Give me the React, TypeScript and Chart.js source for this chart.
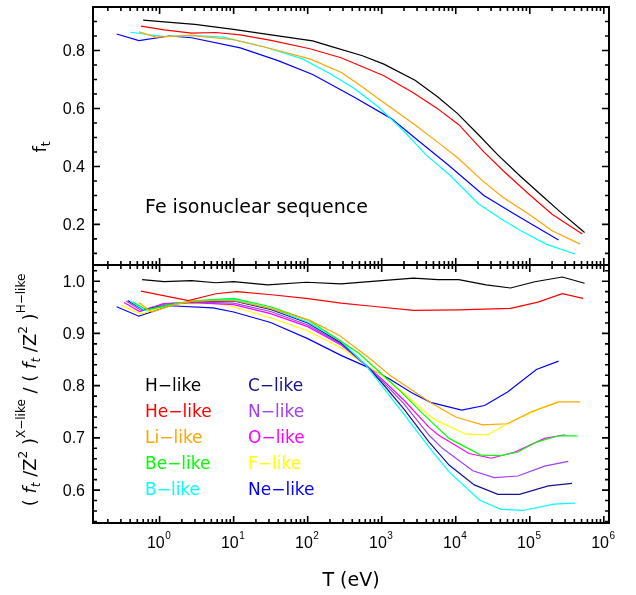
import React, { useEffect, useRef } from "react";
import { Chart, registerables } from "chart.js";
Chart.register(...registerables);

// ---------------- axis ranges & ticks ----------------
const X_MIN = 0.126;
const X_MAX = 1.175e6;
const TOP_Y_MIN = 0.06;
const TOP_Y_MAX = 0.95;
const BOT_Y_MIN = 0.537;
const BOT_Y_MAX = 1.031;
const topYTicks = [0.2, 0.4, 0.6, 0.8];
const bottomYTicks = [0.6, 0.7, 0.8, 0.9, 1.0];
const xTickExponents = [0, 1, 2, 3, 4, 5, 6];

// ---------------- top panel: f_t ----------------
const tTopH = [0.6, 1.15, 3.0, 10, 32, 117, 200, 550, 1070, 2820, 5620, 10500, 20000, 37000, 74000, 148000, 251000, 550000];
const fTopH = [0.905, 0.899, 0.890, 0.873, 0.854, 0.833, 0.815, 0.782, 0.753, 0.697, 0.641, 0.583, 0.511, 0.440, 0.367, 0.298, 0.246, 0.172];
const tTopHe = [0.56, 1.15, 2.7, 5.75, 12.3, 32, 107, 282, 1070, 2700, 5500, 11000, 23400, 43700, 97700, 200000, 513000];
const fTopHe = [0.884, 0.871, 0.860, 0.862, 0.854, 0.835, 0.806, 0.775, 0.713, 0.653, 0.602, 0.544, 0.453, 0.385, 0.304, 0.235, 0.167];
const tTopLi = [0.525, 0.89, 2.57, 10, 32.4, 107, 282, 537, 955, 2690, 5750, 10500, 22900, 43700, 97700, 200000, 479000];
const fTopLi = [0.864, 0.846, 0.852, 0.837, 0.806, 0.771, 0.725, 0.676, 0.629, 0.547, 0.483, 0.431, 0.351, 0.293, 0.235, 0.178, 0.132];
const tTopB = [0.40, 1.15, 2.7, 7.2, 26.3, 85, 204, 427, 912, 1950, 3980, 8510, 20000, 39800, 75900, 166000, 407000];
const fTopB = [0.863, 0.848, 0.852, 0.846, 0.812, 0.771, 0.719, 0.669, 0.604, 0.524, 0.440, 0.368, 0.272, 0.221, 0.178, 0.132, 0.098];
const tTopNe = [0.263, 0.525, 1.35, 2.7, 12.3, 39.8, 117, 427, 1350, 3160, 7940, 24000, 60300, 126000, 245000];
const fTopNe = [0.857, 0.834, 0.850, 0.844, 0.809, 0.765, 0.717, 0.639, 0.565, 0.488, 0.405, 0.300, 0.238, 0.189, 0.146];

// ---------------- bottom panel: ratio ----------------
const tH = [0.58, 1.15, 2.7, 5.75, 10, 28.8, 95.5, 282, 1000, 2690, 5750, 11000, 25700, 55000, 117000, 275000, 550000];
const rH = [1.003, 0.999, 1.001, 0.997, 0.999, 0.993, 0.998, 0.995, 1.001, 1.006, 1.003, 1.003, 0.993, 0.987, 0.999, 1.008, 0.996];
const tHe = [0.56, 2.45, 5.75, 11, 32.4, 95.5, 282, 741, 2690, 11000, 55000, 129000, 275000, 525000];
const rHe = [0.981, 0.963, 0.976, 0.980, 0.974, 0.967, 0.958, 0.952, 0.944, 0.945, 0.948, 0.960, 0.976, 0.967];
const tLi = [0.525, 0.78, 1.58, 2.82, 10, 31.6, 107, 269, 692, 1290, 2400, 4790, 10000, 22900, 50100, 105000, 245000, 479000];
const rLi = [0.959, 0.941, 0.955, 0.962, 0.963, 0.948, 0.925, 0.896, 0.852, 0.820, 0.794, 0.766, 0.740, 0.725, 0.727, 0.750, 0.769, 0.769];
const tBe = [0.437, 0.676, 1.78, 3.16, 10, 31.6, 100, 269, 501, 933, 1740, 3550, 8130, 21900, 40700, 69200, 123000, 245000, 437000];
const rBe = [0.960, 0.945, 0.958, 0.963, 0.967, 0.951, 0.926, 0.887, 0.861, 0.826, 0.791, 0.747, 0.699, 0.667, 0.666, 0.673, 0.692, 0.704, 0.704];
const tB = [0.40, 0.63, 1.58, 2.82, 10, 31.6, 100, 282, 603, 1000, 2000, 4370, 8130, 20900, 40700, 81300, 209000, 407000];
const rB = [0.962, 0.944, 0.956, 0.962, 0.965, 0.948, 0.922, 0.885, 0.840, 0.800, 0.745, 0.682, 0.635, 0.581, 0.563, 0.561, 0.573, 0.575];
const tC = [0.372, 0.603, 1.41, 2.82, 10, 31.6, 100, 282, 603, 1000, 2000, 4370, 8130, 17800, 37200, 72400, 178000, 372000];
const rC = [0.963, 0.945, 0.955, 0.961, 0.962, 0.946, 0.920, 0.882, 0.840, 0.806, 0.755, 0.692, 0.648, 0.610, 0.592, 0.592, 0.608, 0.613];
const tN = [0.355, 0.562, 1.26, 2.82, 10, 31.6, 100, 282, 603, 1000, 2000, 4370, 6610, 17000, 33100, 69200, 158000, 331000];
const rN = [0.962, 0.944, 0.957, 0.960, 0.958, 0.942, 0.916, 0.880, 0.840, 0.810, 0.765, 0.705, 0.680, 0.637, 0.624, 0.627, 0.646, 0.655];
const tO = [0.331, 0.537, 1.12, 2.82, 10, 31.6, 100, 282, 603, 1000, 2000, 4370, 5890, 15100, 30200, 63100, 158000, 302000];
const rO = [0.959, 0.942, 0.957, 0.959, 0.955, 0.938, 0.913, 0.878, 0.840, 0.813, 0.772, 0.720, 0.705, 0.670, 0.661, 0.673, 0.699, 0.706];
const tF = [0.302, 0.562, 1.51, 5.89, 10, 31.6, 100, 282, 603, 1000, 2000, 4370, 5370, 13800, 26900, 56200, 138000, 245000];
const rF = [0.954, 0.937, 0.957, 0.957, 0.951, 0.930, 0.905, 0.872, 0.840, 0.820, 0.785, 0.743, 0.734, 0.707, 0.706, 0.731, 0.756, 0.769];
const tNe = [0.263, 0.525, 1.38, 5.25, 10, 31.6, 100, 282, 631, 1260, 2510, 4570, 12000, 24500, 50100, 123000, 245000];
const rNe = [0.951, 0.933, 0.953, 0.949, 0.941, 0.921, 0.890, 0.858, 0.836, 0.813, 0.787, 0.768, 0.753, 0.762, 0.788, 0.831, 0.847];

// ---------------- names & colours ----------------
const seriesNames = ["H\u2212like", "He\u2212like", "Li\u2212like", "Be\u2212like", "B\u2212like", "C\u2212like", "N\u2212like", "O\u2212like", "F\u2212like", "Ne\u2212like"];
const seriesColors = ["#000000", "#ff0000", "#ffa500", "#00ff00", "#00ffff", "#14148a", "#a040f0", "#ff00ff", "#ffff00", "#0000ff"];
const annotationText = "Fe isonuclear sequence";
const xTitle = "T (eV)";

const pts = (t: number[], v: number[]) => t.map((x, i) => ({ x, y: v[i] }));
const ds = (t: number[], v: number[], color: string) => ({
  data: pts(t, v),
  borderColor: color,
  backgroundColor: color,
  borderWidth: 1.2,
  showLine: true,
  pointRadius: 0,
  fill: false,
  tension: 0,
});

type Seg = { t: string; f: string; dy: number };
function drawRotated(ctx: CanvasRenderingContext2D, segs: Seg[], bx: number, cy: number) {
  ctx.save();
  let total = 0;
  for (const s of segs) { ctx.font = s.f; total += ctx.measureText(s.t).width; }
  ctx.translate(bx, cy);
  ctx.rotate(-Math.PI / 2);
  ctx.textAlign = "left";
  ctx.textBaseline = "alphabetic";
  ctx.fillStyle = "#000";
  let x = -total / 2;
  for (const s of segs) {
    ctx.font = s.f;
    ctx.fillText(s.t, x, s.dy);
    x += ctx.measureText(s.t).width;
  }
  ctx.restore();
}

const TICK_FONT = "16px 'Liberation Sans', Arial, sans-serif";
const SUP_FONT = "10px 'Liberation Sans', Arial, sans-serif";

function drawFrame(chart: any, yMajors: number[], yMinorStep: number) {
  const { ctx, chartArea: a } = chart;
  const xs = chart.scales.x;
  const ys = chart.scales.y;
  ctx.save();
  ctx.strokeStyle = "#000";
  ctx.lineWidth = 1.6;
  ctx.beginPath();
  for (let e = -1; e <= 6; e++) {
    for (let m = 1; m <= 9; m++) {
      const v = m * Math.pow(10, e);
      if (v < X_MIN || v > X_MAX) continue;
      const px = xs.getPixelForValue(v);
      const len = m === 1 ? 7 : 4;
      ctx.moveTo(px, a.bottom); ctx.lineTo(px, a.bottom - len);
      ctx.moveTo(px, a.top); ctx.lineTo(px, a.top + len);
    }
  }
  const k0 = Math.ceil(ys.min / yMinorStep - 1e-6);
  const k1 = Math.floor(ys.max / yMinorStep + 1e-6);
  for (let k = k0; k <= k1; k++) {
    const v = k * yMinorStep;
    const isMajor = yMajors.some((m) => Math.abs(m - v) < 1e-6);
    const py = ys.getPixelForValue(v);
    const len = isMajor ? 7 : 4;
    ctx.moveTo(a.left, py); ctx.lineTo(a.left + len, py);
    ctx.moveTo(a.right, py); ctx.lineTo(a.right - len, py);
  }
  ctx.stroke();
  ctx.lineWidth = 2;
  ctx.strokeRect(a.left, a.top, a.right - a.left, a.bottom - a.top);
  ctx.fillStyle = "#000";
  ctx.font = TICK_FONT;
  ctx.textAlign = "right";
  ctx.textBaseline = "middle";
  for (const v of yMajors) ctx.fillText(v.toFixed(1), a.left - 8, ys.getPixelForValue(v) + 1);
  ctx.restore();
}

const topPlugin = {
  id: "topDecor",
  afterDraw(chart: any) {
    const { ctx } = chart;
    drawFrame(chart, topYTicks, 0.05);
    ctx.save();
    ctx.fillStyle = "#000";
    ctx.font = "19px 'DejaVu Sans', sans-serif";
    ctx.textAlign = "left";
    ctx.textBaseline = "alphabetic";
    ctx.fillText(annotationText, 145, 213);
    ctx.restore();
    drawRotated(ctx, [
      { t: "f", f: "18px 'DejaVu Sans', sans-serif", dy: 0 },
      { t: "t", f: "12px 'DejaVu Sans', sans-serif", dy: 4 },
    ], 46, 147);
  },
};

const bottomPlugin = {
  id: "bottomDecor",
  afterDraw(chart: any) {
    const { ctx, chartArea: a } = chart;
    drawFrame(chart, bottomYTicks, 0.02);
    const xs = chart.scales.x;
    ctx.save();
    ctx.fillStyle = "#000";
    ctx.textBaseline = "alphabetic";
    ctx.textAlign = "left";
    for (const e of xTickExponents) {
      const px = xs.getPixelForValue(Math.pow(10, e));
      ctx.font = TICK_FONT;
      const w1 = ctx.measureText("10").width;
      ctx.font = SUP_FONT;
      const w2 = ctx.measureText(String(e)).width;
      const x0 = px - (w1 + w2) / 2 - 1;
      ctx.font = TICK_FONT;
      ctx.fillText("10", x0, a.bottom + 25);
      ctx.font = SUP_FONT;
      ctx.fillText(String(e), x0 + w1 + 0.5, a.bottom + 16);
    }
    ctx.font = "19px 'DejaVu Sans', sans-serif";
    ctx.textAlign = "center";
    ctx.fillText(xTitle, (a.left + a.right) / 2, 586);
    // legend
    ctx.font = "17px 'DejaVu Sans', sans-serif";
    ctx.textAlign = "left";
    for (let i = 0; i < seriesNames.length; i++) {
      const col = Math.floor(i / 5);
      const row = i % 5;
      ctx.fillStyle = seriesColors[i];
      ctx.fillText(seriesNames[i], col === 0 ? 145 : 248, 391 + row * 25.9);
    }
    ctx.restore();
    const M = "18px 'DejaVu Sans', sans-serif";
    const MI = "italic 18px 'DejaVu Sans', sans-serif";
    const S = "12px 'DejaVu Sans', sans-serif";
    const SI = "italic 12px 'DejaVu Sans', sans-serif";
    drawRotated(ctx, [
      { t: "( ", f: M, dy: 0 }, { t: "f", f: MI, dy: 0 }, { t: "t", f: SI, dy: 4 },
      { t: " /", f: M, dy: 0 }, { t: "Z", f: M, dy: 0 }, { t: "2", f: S, dy: -9 },
      { t: " )", f: M, dy: 0 }, { t: "X\u2212like", f: S, dy: -11 },
      { t: " / ", f: M, dy: 0 },
      { t: "( ", f: M, dy: 0 }, { t: "f", f: MI, dy: 0 }, { t: "t", f: SI, dy: 4 },
      { t: " /", f: M, dy: 0 }, { t: "Z", f: M, dy: 0 }, { t: "2", f: S, dy: -9 },
      { t: " )", f: M, dy: 0 }, { t: "H\u2212like", f: S, dy: -11 },
    ], 36, 390);
  },
};

function baseOptions(yMin: number, yMax: number, padding: any) {
  return {
    animation: false as const,
    responsive: false,
    devicePixelRatio: 1,
    events: [] as any[],
    layout: { padding },
    plugins: { legend: { display: false }, tooltip: { enabled: false }, title: { display: false } },
    scales: {
      x: { type: "logarithmic" as const, min: X_MIN, max: X_MAX, display: false },
      y: { type: "linear" as const, min: yMin, max: yMax, display: false },
    },
  };
}

export default function App() {
  const topRef = useRef<HTMLCanvasElement>(null);
  const botRef = useRef<HTMLCanvasElement>(null);
  useEffect(() => {
    const top = new Chart(topRef.current as HTMLCanvasElement, {
      type: "scatter",
      data: {
        datasets: [
          ds(tTopH, fTopH, seriesColors[0]),
          ds(tTopHe, fTopHe, seriesColors[1]),
          ds(tTopLi, fTopLi, seriesColors[2]),
          ds(tTopB, fTopB, seriesColors[4]),
          ds(tTopNe, fTopNe, seriesColors[9]),
        ],
      },
      options: baseOptions(TOP_Y_MIN, TOP_Y_MAX, { left: 93, right: 27, top: 7, bottom: 330 }) as any,
      plugins: [topPlugin],
    });
    const bot = new Chart(botRef.current as HTMLCanvasElement, {
      type: "scatter",
      data: {
        datasets: [
          ds(tH, rH, seriesColors[0]),
          ds(tHe, rHe, seriesColors[1]),
          ds(tLi, rLi, seriesColors[2]),
          ds(tBe, rBe, seriesColors[3]),
          ds(tB, rB, seriesColors[4]),
          ds(tC, rC, seriesColors[5]),
          ds(tN, rN, seriesColors[6]),
          ds(tO, rO, seriesColors[7]),
          ds(tF, rF, seriesColors[8]),
          ds(tNe, rNe, seriesColors[9]),
        ],
      },
      options: baseOptions(BOT_Y_MIN, BOT_Y_MAX, { left: 93, right: 27, top: 265, bottom: 72 }) as any,
      plugins: [bottomPlugin],
    });
    return () => {
      top.destroy();
      bot.destroy();
    };
  }, []);
  return (
    <div style={{ position: "fixed", left: 0, top: 0, width: 636, height: 595, background: "#ffffff" }}>
      <canvas ref={topRef} width={636} height={595} style={{ position: "absolute", left: 0, top: 0 }} />
      <canvas ref={botRef} width={636} height={595} style={{ position: "absolute", left: 0, top: 0 }} />
    </div>
  );
}
